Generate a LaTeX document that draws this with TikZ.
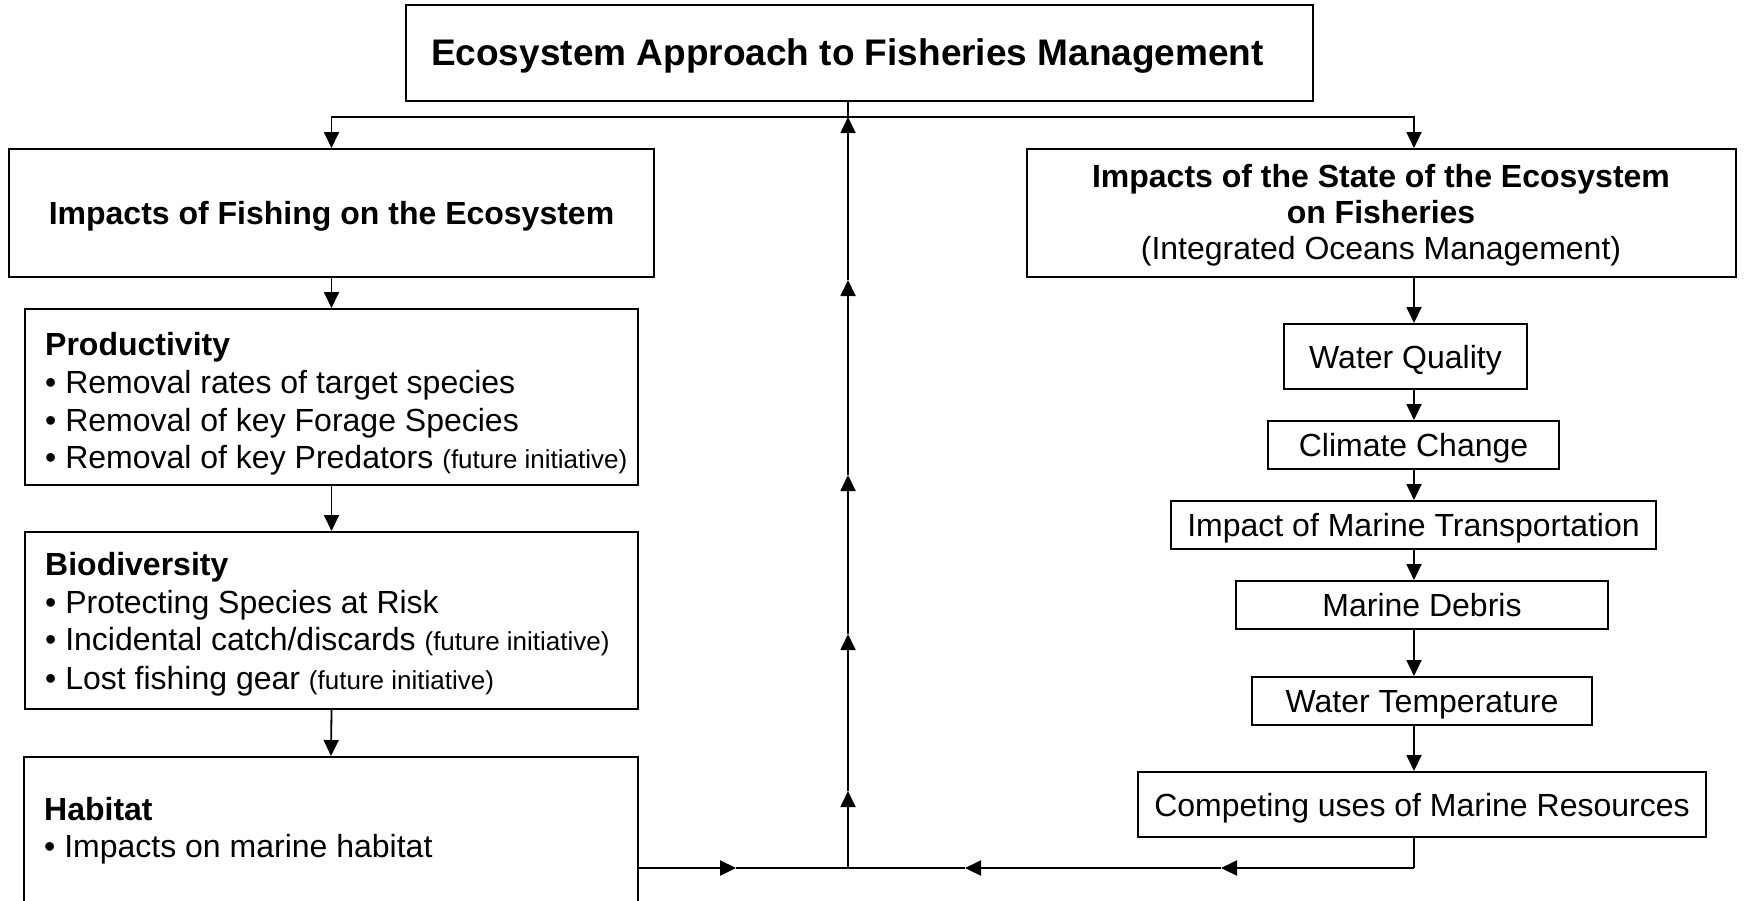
\documentclass[tikz,border=0pt]{standalone}
\usepackage{fontspec}
\setmainfont{Liberation Sans}
\usetikzlibrary{arrows.meta}
\newcommand{\futinit}[1]{{\fontsize{26}{30}\selectfont #1}}
\begin{document}
\begin{tikzpicture}[x=1pt,y=-1pt,
  box/.style={draw, line width=2pt, rectangle, inner sep=0pt},
  ctr/.style={font=\fontsize{32}{38}\selectfont, text height=23pt, text depth=0pt},
  conn/.style={line width=1.8pt},
  arr/.style={conn, -{Triangle[length=16pt,width=15pt]}},
  bline/.style={line width=2.2pt},
  barr/.style={bline, -{Triangle[length=16pt,width=15pt]}},
  body/.style={font=\fontsize{32}{38}\selectfont, inner sep=0pt, anchor=base west},
  cbody/.style={font=\fontsize{32}{38}\selectfont, inner sep=0pt, anchor=base}]
\useasboundingbox (0,0) rectangle (1744,900);
\clip (0,0) rectangle (1744,900);

% top box
\node[box, minimum width=907pt, minimum height=96pt] (top) at (859.5,53) {};
\node[cbody, font=\fontsize{37}{44}\selectfont\bfseries] (toptxt) at (847.5,65) {Ecosystem Approach to Fisheries Management};

% left column
\node[box, ctr, font=\fontsize{32}{38}\selectfont\bfseries, minimum width=645pt, minimum height=128pt] (fish) at (331.5,213) {Impacts of Fishing on the Ecosystem};

\node[box, minimum width=613pt, minimum height=176pt] (prod) at (331.5,397) {};
\node[body, font=\fontsize{32}{38}\selectfont\bfseries] (p0) at (45,355) {Productivity};
\node[body] (p1) at (45,393) {• Removal rates of target species};
\node[body] (p2) at (45,431) {• Removal of key Forage Species};
\node[body] (p3) at (45,468) {• Removal of key Predators \futinit{(future initiative)}};

\node[box, minimum width=613pt, minimum height=177pt] (bio) at (331.5,620.5) {};
\node[body, font=\fontsize{32}{38}\selectfont\bfseries] (b0) at (45,575) {Biodiversity};
\node[body] (b1) at (45,613) {• Protecting Species at Risk};
\node[body] (b2) at (45,650) {• Incidental catch/discards \futinit{(future initiative)}};
\node[body] (b3) at (45,689) {• Lost fishing gear \futinit{(future initiative)}};

\node[box, minimum width=614pt, minimum height=163pt] (hab) at (331,838.5) {};
\node[body, font=\fontsize{32}{38}\selectfont\bfseries] (h0) at (44,820) {Habitat};
\node[body] (h1) at (44,857) {• Impacts on marine habitat};

% right column
\node[box, minimum width=709pt, minimum height=128pt] (state) at (1381.5,213) {};
\node[cbody, font=\fontsize{32}{38}\selectfont\bfseries] (s1) at (1381,187) {Impacts of the State of the Ecosystem};
\node[cbody, font=\fontsize{32}{38}\selectfont\bfseries] (s2) at (1381,223) {on Fisheries};
\node[cbody] (s3) at (1381,259) {(Integrated Oceans Management)};

\node[box, ctr, minimum width=243pt, minimum height=65pt] (wq) at (1405.5,356.5) {Water Quality};
\node[box, ctr, minimum width=291pt, minimum height=48pt] (cc) at (1413.5,445) {Climate Change};
\node[box, ctr, minimum width=485pt, minimum height=48pt] (imt) at (1413.5,525) {Impact of Marine Transportation};
\node[box, ctr, minimum width=372pt, minimum height=48pt] (md) at (1422,605) {Marine Debris};
\node[box, ctr, minimum width=340pt, minimum height=48pt] (wt) at (1422,701) {Water Temperature};
\node[box, ctr, minimum width=568pt, minimum height=65pt] (comp) at (1422,804.5) {Competing uses of Marine Resources};

% coordinates
\coordinate (colx) at (1414,0);
\coordinate (jt) at (848,117);
\coordinate (jb) at (848,868);
\coordinate (u1) at (848,791);
\coordinate (u2) at (848,634);
\coordinate (u3) at (848,475);
\coordinate (u4) at (848,280);
\coordinate (m1) at (736,868);
\coordinate (r1) at (1221,868);
\coordinate (r2) at (965,868);

% top connectors
\draw[conn] (jt |- top.south) -- (jt);
\draw[arr] (jt) -| (fish.north);
\draw[arr] (jt) -| (state.north -| colx);

% left chain
\draw[arr] (fish.south) -- (prod.north);
\draw[arr] (prod.south) -- (bio.north);
\draw[arr] (bio.south) -- (hab.north);

% right chain
\draw[arr] (state.south -| colx) -- (wq.north -| colx);
\draw[arr] (wq.south -| colx) -- (cc.north -| colx);
\draw[arr] (cc.south -| colx) -- (imt.north -| colx);
\draw[arr] (imt.south -| colx) -- (md.north -| colx);
\draw[arr] (md.south -| colx) -- (wt.north -| colx);
\draw[arr] (wt.south -| colx) -- (comp.north -| colx);

% bottom feedback
\draw[barr] (hab.east |- jb) -- (m1);
\draw[bline] (m1) -- (jb);
\draw[conn] (comp.south -| colx) -- (colx |- jb);
\draw[barr] (colx |- jb) -- (r1);
\draw[barr] (r1) -- (r2);
\draw[bline] (r2) -- (jb);

% middle upward line
\draw[arr] (jb) -- (u1);
\draw[arr] (u1) -- (u2);
\draw[arr] (u2) -- (u3);
\draw[arr] (u3) -- (u4);
\draw[arr] (u4) -- (jt);
\end{tikzpicture}
\end{document}
